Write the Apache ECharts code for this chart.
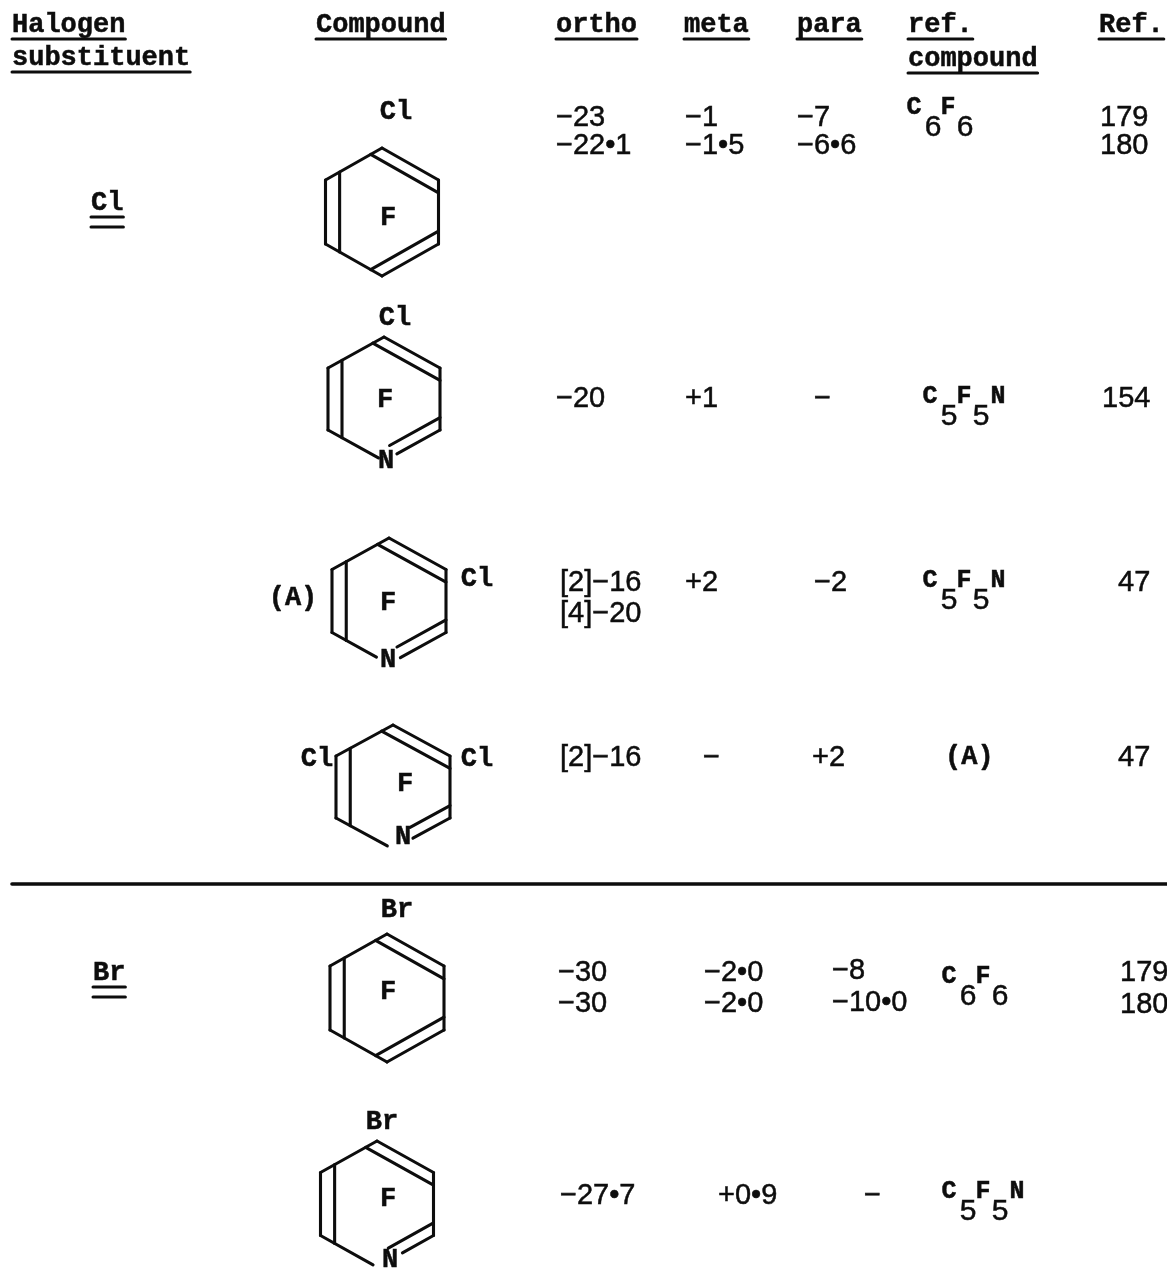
<!DOCTYPE html>
<html>
<head>
<meta charset="utf-8">
<script src="https://cdn.jsdelivr.net/npm/echarts@6/dist/echarts.min.js"></script>
<style>html,body{margin:0;padding:0;background:#fff}#c{width:1167px;height:1270px}</style>
</head>
<body>
<div id="c"></div>
<script>
// ---- data ----
const columnHeads = ["Halogen", "substituent", "Compound", "ortho", "meta", "para", "ref.", "compound", "Ref."];
const halogens = ["Cl", "Br"];
const orthoValues = [["−23", "−22•1"], ["−20"], ["[2]−16", "[4]−20"], ["[2]−16"], ["−30", "−30"], ["−27•7"]];
const metaValues = [["−1", "−1•5"], ["+1"], ["+2"], ["−"], ["−2•0", "−2•0"], ["+0•9"]];
const paraValues = [["−7", "−6•6"], ["−"], ["−2"], ["+2"], ["−8", "−10•0"], ["−"]];
const refCompounds = [["C", "6", "F", "6"], ["C", "5", "F", "5", "N"], ["C", "5", "F", "5", "N"], ["(A)"], ["C", "6", "F", "6"], ["C", "5", "F", "5", "N"]];
const refNumbers = [["179", "180"], ["154"], ["47"], ["47"], ["179", "180"], []];
const atomLabels = ["Cl", "F", "Cl", "F", "N", "(A)", "F", "N", "Cl", "Cl", "F", "N", "Cl", "Br", "F", "Br", "F", "N"];

// ---- layout (axis units = page pixels) ----
const headPos = [[12, 25], [12, 58], [316, 25], [556, 25], [684, 25], [797, 25], [908, 25], [908, 59], [1099, 25]];
const halogenPos = [[91, 203], [93, 973]];
const orthoPos = [[556, 118, 146], [556, 399], [560, 583, 614], [560, 758], [558, 973, 1004], [560, 1196]];
const metaPos = [[685, 118, 146], [685, 399], [685, 583], [703, 758], [704, 973, 1004], [718, 1196]];
const paraPos = [[797, 118, 146], [814, 399], [814, 583], [812, 758], [832, 971, 1003], [864, 1196]];
const refNumPos = [[1100, 118, 146], [1102, 399], [1118, 583], [1118, 758], [1120, 973, 1005], []];
const formulaPos = [[914, 108], [930, 397], [930, 581], [945, 757], [949, 977], [949, 1192]];
const formulaStep = [0, 19, 34, 51, 68];
const atomPos = [[396, 112], [388, 218], [395, 318], [385, 400], [386, 461], [293, 598], [388, 603], [388, 660],
                 [477, 579], [317, 759], [405, 784], [403, 837], [477, 759], [397, 910], [388, 992], [382, 1122], [388, 1199], [390, 1260]];
const ringCentre = [[382, 212], [384, 399], [389, 601], [393, 787], [387, 998], [377, 1204]];
const ringHalf = [[56.5, 64], [56, 62], [57, 63], [57, 62], [57, 64], [56.5, 63]];
const ringNitrogen = [0, 0.9, 0.78, 0.9, 0, 0.93];
const ringOuterStop = [0, 0.77, 0.8, 0.65, 0, 0.55];
const ringInnerStop = [0, 0.9, 0.86, 0.7, 0, 0.8];
const ruleY = 884, ruleFrom = 12, ruleTo = 1167;

const INK = "#0d0d0d";
const HEAD_FONT = 'bold 27px "Liberation Mono"';
const NUM_FONT = '29px "Liberation Sans"';
const SUB_FONT = '30px "Liberation Sans"';
const FORM_FONT = 'bold 25px "Liberation Mono"';
const CHAR_W = 16.2;

// ---- text marks ----
const textMarks = [];
function put(text, x, y, font, align, rules) {
  textMarks.push({ value: [x, y], text, font, align: align || "left", rules: rules || 0 });
}
columnHeads.forEach((t, i) => put(t, headPos[i][0], headPos[i][1], HEAD_FONT, "left", 1));
halogens.forEach((t, i) => put(t, halogenPos[i][0], halogenPos[i][1], HEAD_FONT, "left", 2));
atomLabels.forEach((t, i) => put(t, atomPos[i][0], atomPos[i][1], HEAD_FONT, "center"));
[[orthoValues, orthoPos], [metaValues, metaPos], [paraValues, paraPos], [refNumbers, refNumPos]].forEach(([vals, pos]) => {
  vals.forEach((lines, r) => lines.forEach((t, k) => put(t, pos[r][0], pos[r][k + 1], NUM_FONT)));
});
refCompounds.forEach((tokens, r) => {
  const [x, y] = formulaPos[r];
  if (tokens.length === 1) { put(tokens[0], x, y, HEAD_FONT); return; }
  tokens.forEach((t, k) => {
    const isDigit = /\d/.test(t);
    put(t, x + formulaStep[k], isDigit ? y + 20 : y, isDigit ? SUB_FONT : FORM_FONT, "center");
  });
});

// ---- helpers ----
const lerp = (a, b, t) => [a[0] + (b[0] - a[0]) * t, a[1] + (b[1] - a[1]) * t];
const seg = (api, a, b, w) => {
  const p = api.coord(a), q = api.coord(b);
  return { type: "line", shape: { x1: p[0], y1: p[1], x2: q[0], y2: q[1] },
           style: { stroke: INK, lineWidth: w, lineCap: "round", fill: null } };
};

function renderText(params, api) {
  const m = textMarks[params.dataIndex];
  const [x, y] = m.value;
  const p = api.coord([x, y]);
  const kids = [{
    type: "text",
    style: { x: p[0], y: p[1], text: m.text, font: m.font, fill: INK, stroke: INK, lineWidth: 0.5,
             align: m.align, verticalAlign: "middle" }
  }];
  for (let i = 0; i < m.rules; i++) {
    const yy = y + 14 + i * 10;
    kids.push(seg(api, [x, yy], [x + m.text.length * CHAR_W, yy], 3));
  }
  return { type: "group", children: kids };
}

function renderRing(params, api) {
  const i = params.dataIndex;
  const [cx, cy] = ringCentre[i];
  const [w, h] = ringHalf[i];
  const nit = ringNitrogen[i];
  const T = [cx, cy - h], UR = [cx + w, cy - h / 2], LR = [cx + w, cy + h / 2],
        B = [cx, cy + h], LL = [cx - w, cy + h / 2], UL = [cx - w, cy - h / 2];
  const kids = [];
  const add = (a, b) => kids.push(seg(api, a, b, 3.1));
  add(UL, T); add(T, UR); add(UR, LR); add(UL, LL);
  // inner lines of the three double bonds
  add(lerp(UL, T, 0.25), lerp(LL, B, 0.25));
  add(lerp(T, UL, 0.2), lerp(UR, LR, 0.2));
  const P = lerp(LR, UR, 0.2);
  if (nit) {
    add(LL, lerp(LL, B, nit));
    add(LR, lerp(LR, B, ringOuterStop[i]));
    add(P, lerp(P, [P[0] + B[0] - LR[0], P[1] + B[1] - LR[1]], ringInnerStop[i]));
  } else {
    add(LL, B); add(B, LR);
    add(P, lerp(B, LL, 0.2));
  }
  return { type: "group", children: kids };
}

function renderRule(params, api) {
  return seg(api, [ruleFrom, ruleY], [ruleTo, ruleY], 3.6);
}

const chart = echarts.init(document.getElementById("c"), null, { renderer: "canvas" });
chart.setOption({
  animation: false,
  backgroundColor: "#ffffff",
  tooltip: { show: false },
  grid: { left: 0, right: 0, top: 0, bottom: 0 },
  xAxis: { type: "value", min: 0, max: 1167, show: false },
  yAxis: { type: "value", min: 0, max: 1270, inverse: true, show: false },
  series: [
    { type: "custom", name: "rings", coordinateSystem: "cartesian2d", clip: false, silent: true,
      renderItem: renderRing, data: ringCentre.map(c => c) },
    { type: "custom", name: "rule", coordinateSystem: "cartesian2d", clip: false, silent: true,
      renderItem: renderRule, data: [[ruleFrom, ruleY]] },
    { type: "custom", name: "text", coordinateSystem: "cartesian2d", clip: false, silent: true,
      renderItem: renderText, data: textMarks.map(m => m.value) }
  ]
});
</script>
</body>
</html>
